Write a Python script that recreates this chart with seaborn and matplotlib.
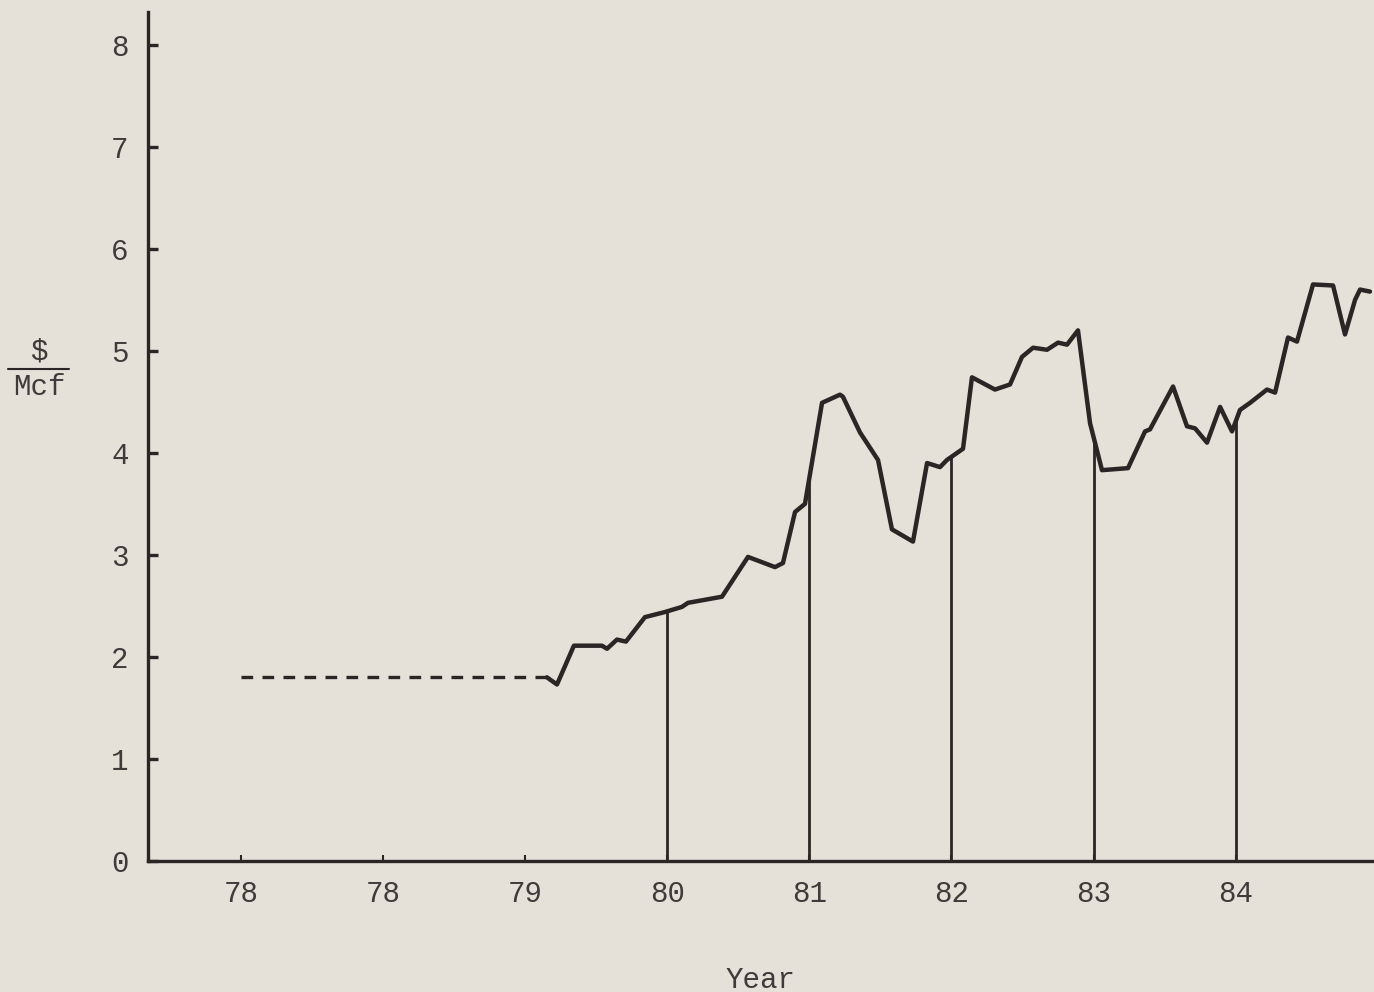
import numpy as np
import pandas as pd
import seaborn as sns
import matplotlib.pyplot as plt
from matplotlib.lines import Line2D

# x is the tick slot (0..7), labels are as typed on the original
tick_labels = ['78', '78', '79', '80', '81', '82', '83', '84']
year_marks = [3, 4, 5, 6, 7]   # vertical lines at 80..84

dash_x = [0.0, 2.153]
dash_y = [1.80, 1.80]

price_x = [2.153, 2.224, 2.343, 2.540, 2.576, 2.646, 2.709, 2.843, 2.984, 3.103,
           3.146, 3.385, 3.568, 3.758, 3.814, 3.899, 3.969, 4.089, 4.215, 4.236,
           4.356, 4.483, 4.581, 4.729, 4.828, 4.919, 4.968, 5.081, 5.144, 5.306,
           5.412, 5.496, 5.574, 5.672, 5.750, 5.813, 5.890, 5.975, 6.059, 6.242,
           6.362, 6.397, 6.559, 6.657, 6.714, 6.798, 6.890, 6.974, 7.030, 7.101,
           7.220, 7.277, 7.368, 7.431, 7.544, 7.685, 7.769, 7.840, 7.875, 7.945]
price_y = [1.80, 1.73, 2.11, 2.11, 2.08, 2.17, 2.15, 2.39, 2.44, 2.49,
           2.53, 2.59, 2.98, 2.88, 2.92, 3.42, 3.50, 4.49, 4.57, 4.55,
           4.20, 3.93, 3.25, 3.13, 3.90, 3.86, 3.93, 4.04, 4.74, 4.62,
           4.67, 4.94, 5.03, 5.01, 5.08, 5.06, 5.20, 4.29, 3.83, 3.85,
           4.21, 4.23, 4.65, 4.26, 4.24, 4.10, 4.45, 4.21, 4.42, 4.49,
           4.62, 4.59, 5.13, 5.09, 5.65, 5.64, 5.16, 5.50, 5.60, 5.58]

ink = '#2b2525'
paper = '#e5e0d8'
label_ink = '#403a3a'

sns.set_theme(style='ticks')
plt.rcParams['font.family'] = ['Liberation Mono', 'DejaVu Sans Mono']

fig = plt.figure(figsize=(13.74, 9.92), dpi=100, facecolor=paper)
ax = fig.add_axes([148 / 1374, 1 - 861 / 992, (1372 - 148) / 1374, (861 - 12) / 992])
ax.set_facecolor(paper)

df = pd.DataFrame({'x': price_x, 'y': price_y})
sns.lineplot(data=df, x='x', y='y', ax=ax, color=ink, linewidth=3.2,
             sort=False, estimator=None)
ax.plot(dash_x, dash_y, color=ink, linewidth=2.4, dashes=(3.5, 2.8))

tops = np.interp(year_marks, price_x, price_y)
ax.vlines(year_marks, 0, tops, color=ink, linewidth=2.0)

ax.set_xlim(-0.654, 7.959)
ax.set_ylim(0, 8.32)
ax.set_xticks(range(len(tick_labels)))
ax.set_xticklabels(tick_labels)
ax.set_yticks(range(0, 9))
ax.set_xlabel('')
ax.set_ylabel('')

for s in ['top', 'right']:
    ax.spines[s].set_visible(False)
for s in ['left', 'bottom']:
    ax.spines[s].set_color(ink)
    ax.spines[s].set_linewidth(2.4)

ax.tick_params(axis='y', direction='in', length=7, width=2.4, color=ink,
               pad=14, labelsize=21, labelcolor=label_ink)
ax.tick_params(axis='x', direction='in', length=4, width=1.5, color=ink,
               pad=14, labelsize=21, labelcolor=label_ink)

fig.text(760 / 1374, 1 - 980 / 992, 'Year', ha='center', va='center',
         fontsize=21, color=label_ink)
fig.text(39 / 1374, 1 - 352 / 992, '$', ha='center', va='center',
         fontsize=21, color=label_ink)
fig.text(39 / 1374, 1 - 387 / 992, 'Mcf', ha='center', va='center',
         fontsize=21, color=label_ink)
fig.add_artist(Line2D([8 / 1374, 69 / 1374], [1 - 369 / 992, 1 - 369 / 992],
                      color=ink, linewidth=1.5))

fig.savefig('out.png', dpi=100, facecolor=paper)
